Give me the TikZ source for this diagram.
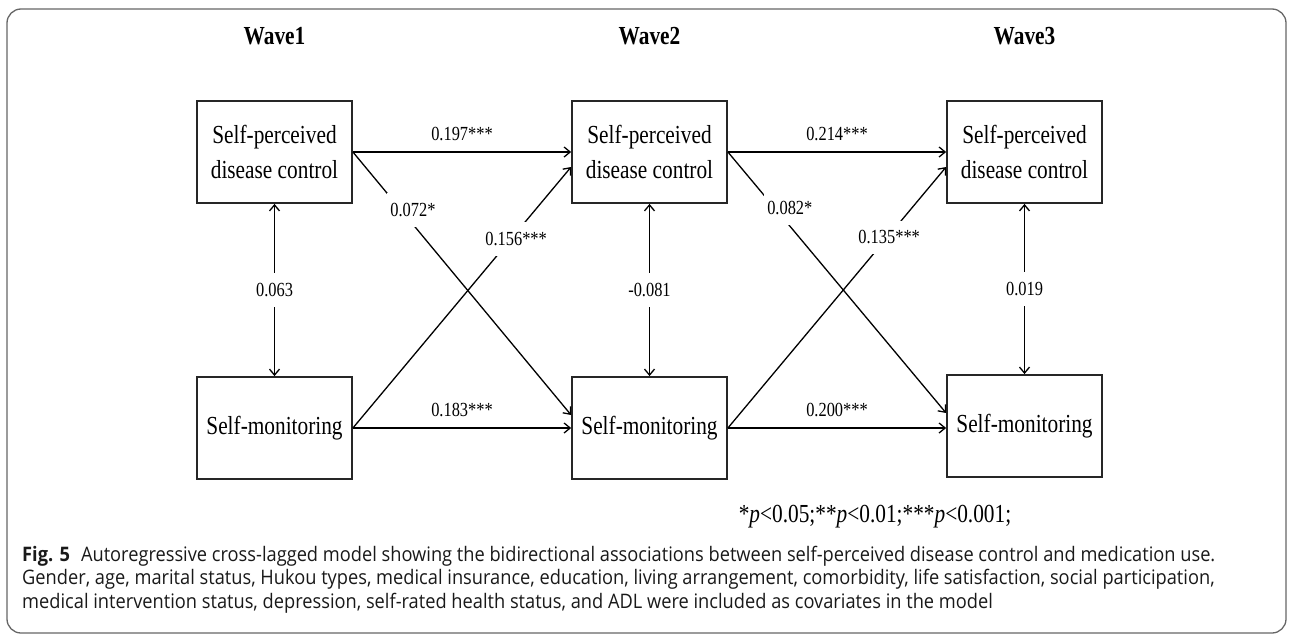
\documentclass[tikz,border=0pt]{standalone}
\usepackage{fontspec}
\newfontfamily\tnr[FakeStretch=0.82]{Liberation Serif}
\newfontfamily\capfont[FakeStretch=0.912]{Open Sans}
\usetikzlibrary{arrows.meta,calc}
\begin{document}
\begin{tikzpicture}[x=1pt,y=-1pt,
  box/.style={draw=black!85, line width=1.8pt, minimum width=155pt, minimum height=102pt,
    align=center, inner sep=0pt, font=\tnr\fontsize{26}{35}\selectfont},
  conn/.style={line width=1.3pt, -{Straight Barb[length=6pt,width=10pt,line width=1.3pt]}},
  dbl/.style={line width=1.3pt, {Straight Barb[length=6pt,width=10pt,line width=1.3pt]}-{Straight Barb[length=6pt,width=10pt,line width=1.3pt]}},
  lbl/.style={font=\tnr\fontsize{20}{24}\selectfont, inner sep=3pt},
  gap/.style={lbl, fill=white, inner xsep=3pt, inner ysep=10pt},
  wave/.style={font=\tnr\bfseries\fontsize{26}{30}\selectfont, anchor=base}]
\useasboundingbox (0,0) rectangle (1292,637);
\draw[rounded corners=14pt, draw=black!60, line width=1.3pt] (7,9) rectangle (1286,633);

\node[wave] (w1) at (274.5,44) {Wave1};
\node[wave] (w2) at (649.5,44) {Wave2};
\node[wave] (w3) at (1024.5,44) {Wave3};

\node[box] (s1) at (274.5,152) {Self-perceived\\disease control};
\node[box] (s2) at (649.5,152) {Self-perceived\\disease control};
\node[box] (s3) at (1024.5,152) {Self-perceived\\disease control};
\node[box] (m1) at (274.5,428) {Self-monitoring};
\node[box] (m2) at (649.5,428) {Self-monitoring};
\node[box] (m3) at (1024.5,426) {Self-monitoring};

% autoregressive paths
\draw[conn] (s1) -- (s2) node[lbl, midway, above=8pt] {0.197***};
\draw[conn] (s2) -- (s3) node[lbl, midway, above=8pt] {0.214***};
\draw[conn] (m1) -- (m2) node[lbl, midway, above=8pt] {0.183***};
\draw[conn] (m2.east) -- (m2.east -| m3.west) node[lbl, midway, above=8pt] {0.200***};

% cross-lagged paths
\draw[conn] (s1.east) -- ($(m2.west)+(0,-13)$) node[gap, pos=0.22, xshift=12pt] {0.072*};
\draw[conn] (m1.east) -- ($(s2.west)+(0,15)$) node[gap, pos=0.725, xshift=5pt] {0.156***};
\draw[conn] (s2.east) -- ($(m3.west)+(0,-13)$) node[gap, pos=0.215, xshift=15pt] {0.082*};
\draw[conn] (m2.east) -- ($(s3.west)+(0,15)$) node[gap, pos=0.73, xshift=2pt] {0.135***};

% correlations
\draw[dbl] (s1) -- (m1) node[gap, midway] {0.063};
\draw[dbl] (s2) -- (m2) node[gap, midway] {-0.081};
\draw[dbl] (s3) -- (m3) node[gap, midway] {0.019};

\node[anchor=base, font=\tnr\fontsize{26}{30}\selectfont] (note) at (875,522)
  {*\textit{p}<0.05;**\textit{p}<0.01;***\textit{p}<0.001;};

\node[anchor=base west, align=left, inner sep=0pt, text=black!90,
  font=\capfont\fontsize{20}{23.5}\selectfont] (cap) at (22,608)
  {\textbf{Fig. 5}\hspace{0.55em}Autoregressive cross-lagged model showing the bidirectional associations between self-perceived disease control and medication use.\\
   Gender, age, marital status, Hukou types, medical insurance, education, living arrangement, comorbidity, life satisfaction, social participation,\\
   medical intervention status, depression, self-rated health status, and ADL were included as covariates in the model};
\end{tikzpicture}
\end{document}
